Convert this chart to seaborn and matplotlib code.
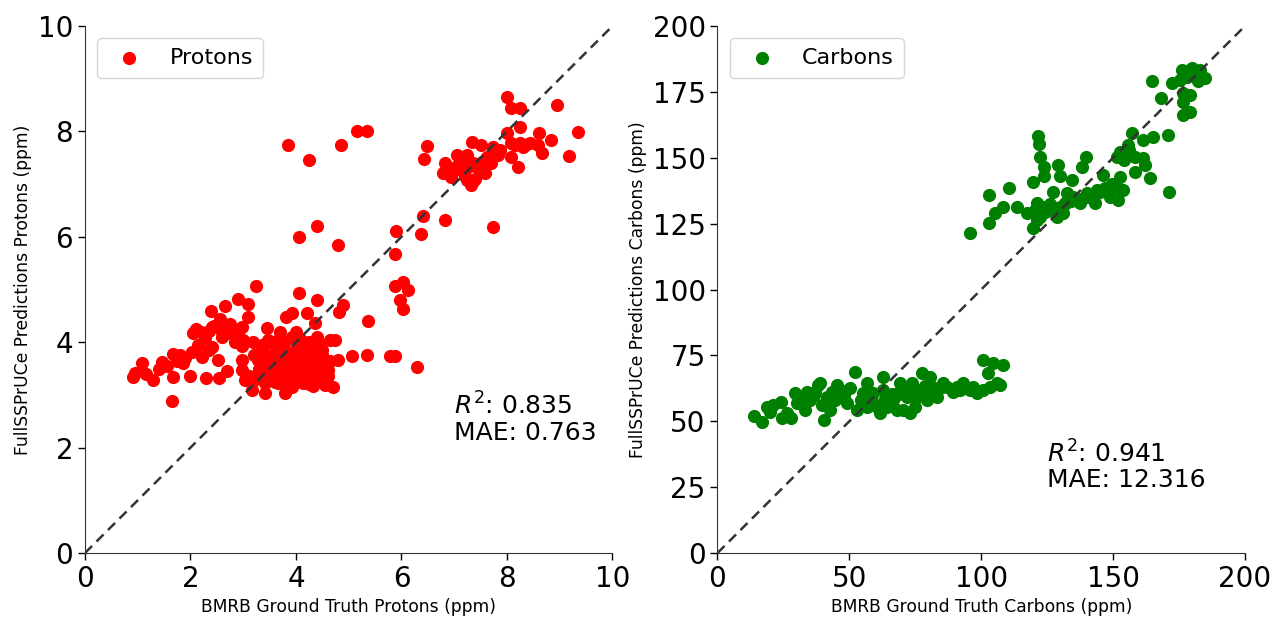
import matplotlib
matplotlib.use("Agg")
import matplotlib.pyplot as plt
import seaborn as sns
import pandas as pd

# ---------------- data ----------------
proton_truth = [
    3.85, 4.25, 4.85, 5.15, 5.35, 4.05, 4.4, 4.8,
    6.49, 6.42, 5.9, 6.41, 6.83, 7.74, 6.37, 5.88,
    6.02, 5.88, 6.13, 5.98, 6.02, 5.37, 4.82, 4.9, 5.88, 6.3,
    3.24, 4.06, 4.4, 4.21, 1.65,
    0.91, 1.08, 1.29, 1.46, 1.67, 1.67, 2.03, 1.99, 2.3, 2.54, 2.69, 2.05, 2.39,
    2.66, 2.9, 3.09, 3.09, 2.56, 2.41, 2.79, 2.98, 2.28, 2.41, 2.22, 2.52, 1.8,
    0.95, 1.15, 1.4, 1.55, 1.85, 2.15, 2.6, 2.85,
    3.45, 3.93, 3.81, 4.36, 3.47, 2.98, 3.19, 4.65, 4.74, 5.07, 5.35, 5.79,
    3.17, 3.42, 3.8, 4.33, 4.71, 4.55, 4.14, 2.98, 2.98, 3.66, 3.93, 4.17,
    4.42, 4.8, 4.55, 4.04, 3.55, 3.28, 3.8, 4.31, 3.55, 3.8, 3.28, 4.42,
    4.17, 3.93, 3.66, 3.42, 3.04, 4.04, 4.61, 3.85,
    3.6, 3.7, 3.9, 4.0, 3.5, 3.3, 4.2, 4.3, 3.75, 4.1, 3.35, 3.85, 4.4, 3.6,
    4.25, 3.95, 3.2, 4.5, 4.0, 3.7,
    3.4, 3.55, 3.65, 3.75, 3.85, 3.95, 4.05, 4.15, 4.25, 4.35, 4.45, 4.55,
    3.3, 3.45, 3.6, 3.7, 3.8, 3.9, 4.0, 4.1, 4.2, 4.3, 4.4, 4.5, 4.65,
    3.35, 3.5, 3.65, 3.8, 3.95, 4.1, 4.25, 4.4,
    3.1, 3.25, 3.4, 3.55, 3.7, 3.85, 4.0, 4.15, 4.3, 4.45, 4.6,
    2.1, 2.2, 2.35, 2.45, 2.6, 2.7, 2.8, 2.9, 3.0, 2.5, 2.75, 2.35, 1.9, 1.75,
    8.0, 8.07, 8.25, 8.94, 9.34, 8.6, 8.84, 9.17, 8.24, 8.0, 8.67, 8.2,
    8.07, 8.25, 8.44, 8.58, 7.87, 7.74, 7.5, 7.34, 8.07, 7.82, 7.63, 7.06,
    6.83, 6.79, 6.93, 7.12, 7.25, 7.31, 7.5, 7.59, 7.36, 7.17, 7.53, 7.25,
    7.0, 7.4, 7.7, 8.3, 7.2, 7.3, 7.45, 7.15, 7.35, 7.05, 8.15, 8.35,
]
proton_pred = [
    7.75, 7.45, 7.75, 8.0, 8.0, 6.0, 6.2, 5.85,
    7.72, 7.47, 6.11, 6.39, 6.32, 6.19, 6.05, 5.67,
    5.14, 5.07, 4.99, 4.8, 4.63, 4.4, 4.57, 4.7, 3.74, 3.53,
    5.07, 4.94, 4.8, 4.55, 2.88,
    3.34, 3.61, 3.28, 3.62, 3.78, 3.34, 3.81, 3.36, 3.32, 3.32, 3.45, 4.17, 4.59,
    4.69, 4.82, 4.73, 4.48, 4.44, 4.29, 4.19, 4.29, 4.08, 3.91, 3.72, 3.66, 3.76,
    3.42, 3.4, 3.5, 3.55, 3.6, 3.95, 4.1, 4.0,
    4.27, 4.55, 4.48, 4.36, 4.04, 3.93, 4.0, 4.04, 4.04, 3.74, 3.76, 3.74,
    3.09, 3.04, 3.04, 3.17, 3.15, 3.19, 3.23, 3.47, 3.66, 3.91, 4.1, 3.85,
    3.98, 3.66, 3.53, 3.53, 3.47, 3.34, 3.34, 3.34, 3.72, 3.72, 3.66, 3.6,
    3.47, 3.15, 3.23, 3.23, 3.28, 3.72, 3.47, 3.53,
    3.6, 3.4, 3.45, 3.3, 3.5, 3.5, 3.6, 3.7, 3.8, 3.9, 3.85, 3.25, 3.4, 3.25,
    3.2, 3.65, 3.75, 3.85, 4.2, 4.2,
    3.55, 3.45, 3.5, 3.55, 3.45, 3.4, 3.5, 3.4, 3.45, 3.5, 3.55, 3.4,
    3.7, 3.75, 3.8, 3.7, 3.65, 3.8, 3.85, 3.7, 3.75, 3.8, 3.7, 3.75, 3.65,
    3.95, 4.0, 4.05, 4.0, 4.1, 4.05, 4.0, 4.1,
    3.35, 3.3, 3.3, 3.35, 3.25, 3.3, 3.35, 3.3, 3.25, 3.3, 3.35,
    4.25, 4.2, 4.22, 4.3, 4.2, 4.18, 4.15, 4.2, 4.05, 4.3, 4.35, 3.85, 3.7, 3.65,
    8.65, 8.44, 8.44, 8.5, 7.99, 7.97, 7.84, 7.53, 8.08, 7.97, 7.59, 7.32,
    7.78, 7.78, 7.78, 7.74, 7.65, 7.7, 7.74, 7.8, 7.51, 7.55, 7.51, 7.55,
    7.4, 7.21, 7.13, 7.27, 7.08, 6.98, 7.27, 7.21, 7.4, 7.4, 7.42, 7.55,
    7.3, 7.1, 7.4, 7.7, 7.15, 7.35, 7.3, 7.45, 7.05, 7.35, 7.75, 7.75,
]

carbon_truth = [
    95.8, 103.0, 105.3, 108.3, 103.0, 110.6, 113.6, 119.7, 121.6, 122.0,
    122.3, 123.9, 123.9, 129.2, 129.9, 134.5, 139.8, 138.3, 127.3, 119.7,
    117.4, 121.2, 125.0, 128.8, 122.3, 131.8, 137.5, 143.2, 143.9, 140.2,
    134.8, 132.6, 146.2, 151.5, 153.8, 151.9, 148.9, 152.7, 151.5, 152.7,
    155.7, 157.2, 161.4, 165.2, 170.8, 158.3, 161.4, 162.1, 158.3, 164.0,
    171.2, 164.8, 168.2, 172.3, 176.1, 179.9, 183.0, 184.8, 178.0, 176.5,
    179.2, 176.5, 179.2, 176.5, 175.4, 181.0, 120.5, 124.0, 127.0, 145.0,
    121.0, 123.0, 125.5, 127.5, 130.0, 132.0, 134.0, 136.0, 138.0, 140.0,
    142.0, 144.0, 147.0, 149.5, 154.0, 156.0, 123.5, 126.0, 128.5, 131.0,
    178.5, 181.5, 177.5, 182.0,
    14.0, 17.0, 18.9, 24.6, 23.9, 27.7, 29.5, 33.3, 34.1, 38.3,
    40.2, 39.8, 42.8, 45.5, 43.6, 49.2, 52.3, 50.4, 56.8, 56.8,
    53.0, 60.6, 62.9, 62.9, 66.7, 68.2, 70.5, 70.5, 73.9, 75.0,
    77.7, 80.7, 78.0, 81.8, 85.6, 89.4, 93.2, 98.5, 103.4, 106.0,
    100.8, 104.5, 108.3, 102.7, 59.1, 61.7, 39.0, 46.6, 55.3, 64.4,
    72.0, 75.8, 79.5, 83.3, 73.1, 69.3, 35.2, 30.3, 21.2, 26.5,
    41.7, 90.9, 95.8, 100.8, 107.0, 65.0, 58.0, 76.0, 68.0, 85.0,
    20.0, 31.0, 36.5, 44.5, 48.0, 54.5, 58.5, 63.5, 67.5, 71.5,
    74.5, 78.5, 82.0, 87.0, 92.0, 97.0, 37.0, 47.5, 57.5, 66.0,
]
carbon_pred = [
    121.4, 125.2, 129.0, 131.3, 135.9, 138.5, 131.3, 140.8, 158.3, 155.2,
    150.3, 146.5, 143.1, 147.2, 143.1, 141.6, 150.3, 146.5, 137.0, 123.3,
    129.0, 132.8, 131.3, 127.5, 127.5, 132.8, 132.8, 132.8, 137.8, 136.6,
    135.1, 136.6, 143.5, 138.9, 137.8, 134.0, 135.1, 142.7, 150.3, 152.2,
    154.8, 159.4, 156.7, 157.9, 158.6, 150.3, 149.9, 147.2, 144.6, 142.3,
    137.0, 179.1, 172.7, 178.4, 183.3, 184.1, 183.3, 180.3, 180.6, 174.6,
    173.8, 171.2, 167.4, 166.2, 179.5, 182.2, 130.0, 129.5, 131.0, 137.0,
    126.5, 129.0, 130.5, 129.5, 131.5, 133.0, 133.5, 134.0, 134.5, 135.0,
    135.5, 136.5, 138.5, 140.0, 149.0, 153.0, 131.5, 132.5, 130.5, 129.0,
    182.5, 181.0, 183.0, 179.0,
    52.0, 49.7, 55.4, 51.2, 57.3, 51.2, 60.7, 54.3, 61.1, 63.8,
    50.5, 56.2, 54.3, 63.8, 61.1, 56.9, 68.7, 62.6, 64.5, 55.4,
    54.3, 55.4, 66.8, 61.9, 58.1, 54.3, 54.3, 63.0, 64.5, 55.4,
    68.3, 66.8, 61.9, 61.9, 64.5, 61.1, 64.5, 60.7, 63.0, 64.5,
    73.2, 72.1, 71.3, 68.3, 60.7, 53.1, 64.5, 60.7, 60.7, 55.4,
    59.2, 59.2, 58.1, 59.2, 53.1, 64.5, 58.1, 56.9, 56.2, 53.1,
    59.2, 63.0, 61.9, 61.9, 63.7, 58.0, 59.0, 62.0, 60.0, 63.0,
    53.5, 58.5, 60.0, 58.0, 59.5, 58.0, 57.5, 58.5, 60.5, 61.0,
    62.5, 63.5, 62.5, 63.0, 62.0, 63.0, 61.0, 61.5, 59.0, 60.5,
]

proton_stats = "$R^2$: 0.835\nMAE: 0.763"
carbon_stats = "$R^2$: 0.941\nMAE: 12.316"

# ---------------- plot ----------------
sns.set_style("ticks")
plt.rcParams["font.family"] = ["DejaVu Sans"]
plt.rcParams["text.color"] = "black"
plt.rcParams["axes.labelcolor"] = "black"
plt.rcParams["xtick.color"] = "black"
plt.rcParams["ytick.color"] = "black"

fig, axes = plt.subplots(1, 2, figsize=(12.76, 6.19), dpi=100)
fig.subplots_adjust(left=0.0666, right=0.9757, top=0.958, bottom=0.1066, wspace=0.199)

panels = [
    (axes[0], proton_truth, proton_pred, "red", "Protons", 10, proton_stats, (7.0, 2.05)),
    (axes[1], carbon_truth, carbon_pred, "green", "Carbons", 200, carbon_stats, (125.0, 23.0)),
]

for ax, xs, ys, col, name, lim, stats, tpos in panels:
    df = pd.DataFrame({"truth": xs, "pred": ys})
    sns.scatterplot(data=df, x="truth", y="pred", color=col, s=90, linewidth=0,
                    label=name, ax=ax, zorder=2)
    ax.plot([0, lim], [0, lim], linestyle="--", color="#333333", linewidth=1.8,
            zorder=3, dashes=(4, 2.5))
    ax.set_xlim(0, lim)
    ax.set_ylim(0, lim)
    ax.set_xlabel(f"BMRB Ground Truth {name} (ppm)", fontsize=12.3)
    ax.set_ylabel(f"FullSSPrUCe Predictions {name} (ppm)", fontsize=12.3)
    ax.tick_params(axis="both", labelsize=20, length=5, width=1)
    ax.text(tpos[0], tpos[1], stats, fontsize=18, ha="left", va="bottom",
            linespacing=1.05)
    ax.legend(loc="upper left", fontsize=16, borderpad=0.45,
              handletextpad=0.8, frameon=True, borderaxespad=0.55)
    for sp in ["left", "bottom"]:
        ax.spines[sp].set_color("#333333")
    sns.despine(ax=ax)

fig.savefig("out.png", dpi=100)
